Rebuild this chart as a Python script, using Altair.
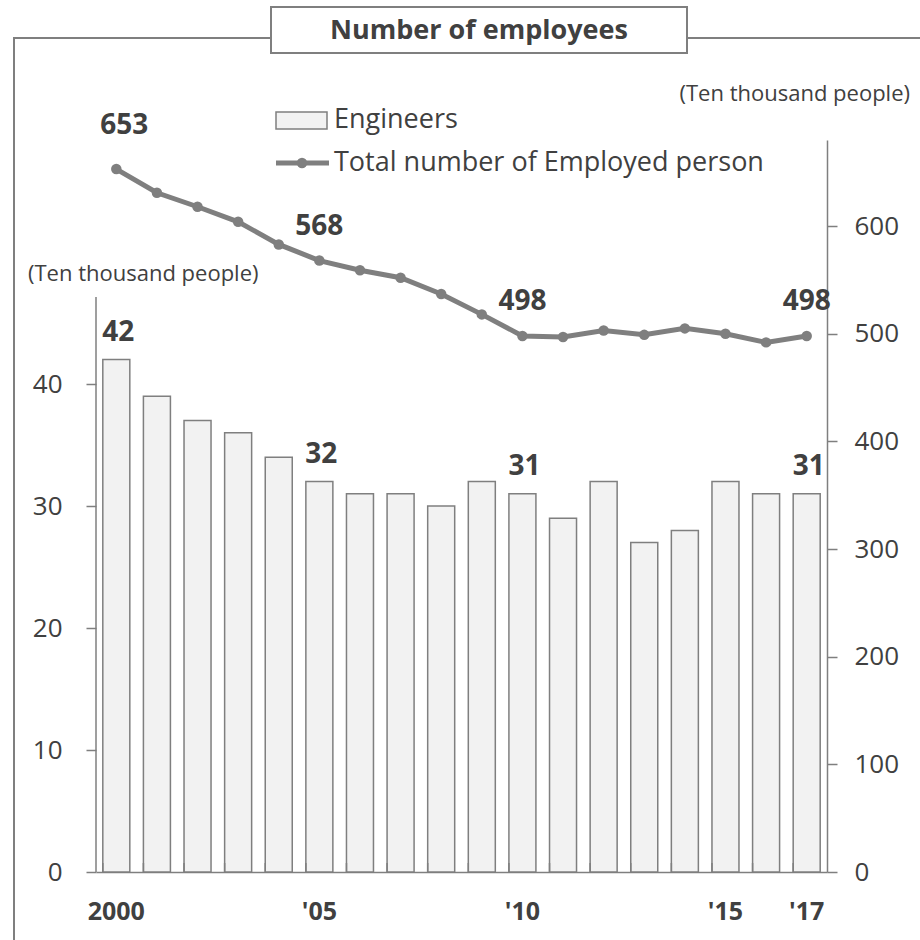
import altair as alt
import pandas as pd

years = [str(y) for y in range(2000, 2018)]
engineers = [42, 39, 37, 36, 34, 32, 31, 31, 30, 32, 31, 29, 32, 27, 28, 32, 31, 31]
employed = [653, 631, 618, 604, 583, 568, 559, 552, 537, 518, 498, 497, 503, 499, 505, 500, 492, 498]
bar_label_years = ["2000", "2005", "2010", "2017"]
line_label_years = ["2005", "2010", "2017"]
first_label_year = ["2000"]
left_ticks = [0, 10, 20, 30, 40]
right_ticks = [0, 100, 200, 300, 400, 500, 600]

df = pd.DataFrame({"year": years, "engineers": engineers, "employed": employed})
one = pd.DataFrame({"a": [0]})

GRAY = "#7f7f7f"
DARK = "#404040"
FONT = "Open Sans"

W, H = 731, 732

xscale = alt.Scale(paddingInner=0.335, paddingOuter=0.1675)
xenc = alt.X(
    "year:N",
    sort=years,
    scale=xscale,
    axis=alt.Axis(
        title=None, labelAngle=0, ticks=False, tickSize=0, domain=True,
        domainColor=GRAY, domainWidth=1.5, labelPadding=27, labelFontSize=25,
        labelFontWeight="bold", labelColor=DARK, labelFont=FONT,
        labelExpr="datum.value == '2000' ? '2000' : (indexof(['2005','2010','2015','2017'], datum.value) >= 0 ? \"'\" + substring(datum.value, 2) : '')",
    ),
)

yl = alt.Y(
    "engineers:Q",
    scale=alt.Scale(domain=[0, 60], nice=False),
    axis=alt.Axis(
        orient="left", values=left_ticks, domain=False, grid=False, title=None,
        tickSize=10, tickColor=GRAY, tickWidth=1.5, labelPadding=24,
        labelFontSize=26, labelColor=DARK, labelFont=FONT,
    ),
)
yr = alt.Y(
    "employed:Q",
    scale=alt.Scale(domain=[0, 680], nice=False),
    axis=alt.Axis(
        orient="right", values=right_ticks, domain=True, domainColor=GRAY,
        domainWidth=1.5, grid=False, title=None, tickSize=10, tickColor=GRAY,
        tickWidth=1.5, labelPadding=17, labelFontSize=26, labelColor=DARK,
        labelFont=FONT,
    ),
)

base = alt.Chart(df)

bars = base.mark_bar(fill="#f2f2f2", stroke=GRAY, strokeWidth=1.5).encode(x=xenc, y=yl)
bar_labels = base.transform_filter(
    alt.FieldOneOfPredicate(field="year", oneOf=bar_label_years)
).mark_text(fontSize=28, fontWeight="bold", color=DARK, dy=-19, dx=2, baseline="alphabetic", font=FONT).encode(
    x=xenc, y=yl, text="engineers:Q"
)
bar_layer = alt.layer(bars, bar_labels)

line = base.mark_line(color=GRAY, strokeWidth=5).encode(x=xenc, y=yr)
pts = base.mark_circle(color=GRAY, size=110, opacity=1).encode(x=xenc, y=yr)
line_labels = base.transform_filter(
    alt.FieldOneOfPredicate(field="year", oneOf=line_label_years)
).mark_text(fontSize=28, fontWeight="bold", color=DARK, dy=-26, baseline="alphabetic", font=FONT).encode(
    x=xenc, y=yr, text="employed:Q"
)
first_label = base.transform_filter(
    alt.FieldOneOfPredicate(field="year", oneOf=first_label_year)
).mark_text(fontSize=28, fontWeight="bold", color=DARK, dy=-35, dx=8, baseline="alphabetic", font=FONT).encode(
    x=xenc, y=yr, text="employed:Q"
)
line_layer = alt.layer(line, pts, line_labels, first_label)

# inner x ticks at band boundaries
xticks = base.mark_rule(color=GRAY, strokeWidth=1.5).encode(
    x=alt.X("year:N", sort=years, bandPosition=0, scale=xscale),
    y=alt.value(H - 9), y2=alt.value(H),
)

deco = alt.Chart(one)
left_axis_line = deco.mark_rule(color=GRAY, strokeWidth=1.5).encode(
    x=alt.value(0), y=alt.value(157), y2=alt.value(H))
frame_left = deco.mark_rule(color=GRAY, strokeWidth=2).encode(
    x=alt.value(-82), y=alt.value(-102), y2=alt.value(800))
frame_top1 = deco.mark_rule(color=GRAY, strokeWidth=2).encode(
    x=alt.value(-83), x2=alt.value(175), y=alt.value(-102))
frame_top2 = deco.mark_rule(color=GRAY, strokeWidth=2).encode(
    x=alt.value(591), x2=alt.value(824), y=alt.value(-102))
title_box = deco.mark_rect(fill="white", stroke=GRAY, strokeWidth=2).encode(
    x=alt.value(175), x2=alt.value(591), y=alt.value(-133), y2=alt.value(-87))
title_text = deco.mark_text(fontSize=27, fontWeight="bold", color=DARK, baseline="middle", font=FONT,
                            text="Number of employees").encode(x=alt.value(383), y=alt.value(-109))
left_title = deco.mark_text(fontSize=22, color=DARK, align="left", baseline="middle", font=FONT,
                            text="(Ten thousand people)").encode(x=alt.value(-68), y=alt.value(134))
right_title = deco.mark_text(fontSize=22, color=DARK, align="right", baseline="middle", font=FONT,
                             text="(Ten thousand people)").encode(x=alt.value(814), y=alt.value(-46))
leg_rect = deco.mark_rect(fill="#f2f2f2", stroke=GRAY, strokeWidth=1.5).encode(
    x=alt.value(180), x2=alt.value(231), y=alt.value(-28), y2=alt.value(-11))
leg_text1 = deco.mark_text(fontSize=27, color=DARK, align="left", baseline="middle", font=FONT,
                           text="Engineers").encode(x=alt.value(238), y=alt.value(-20))
leg_line = deco.mark_rule(color=GRAY, strokeWidth=5).encode(
    x=alt.value(180), x2=alt.value(233), y=alt.value(23))
leg_pt = deco.mark_circle(color=GRAY, size=110, opacity=1).encode(x=alt.value(206), y=alt.value(23))
leg_text2 = deco.mark_text(fontSize=27, color=DARK, align="left", baseline="middle", font=FONT,
                           text="Total number of Employed person").encode(x=alt.value(238), y=alt.value(23))

chart = alt.layer(
    bar_layer, line_layer, xticks,
    frame_left, frame_top1, frame_top2, title_box, title_text,
    left_axis_line, left_title, right_title,
    leg_rect, leg_text1, leg_line, leg_pt, leg_text2,
).resolve_scale(y="independent").properties(
    width=W, height=H,
    autosize=alt.AutoSizeParams(type="none"),
    padding={"left": 96, "top": 140, "right": 93, "bottom": 68},
    background="white",
).configure(font=FONT).configure_view(strokeWidth=0, stroke="transparent")

chart.save("out.html", embed_options={"renderer": "svg", "actions": False})
